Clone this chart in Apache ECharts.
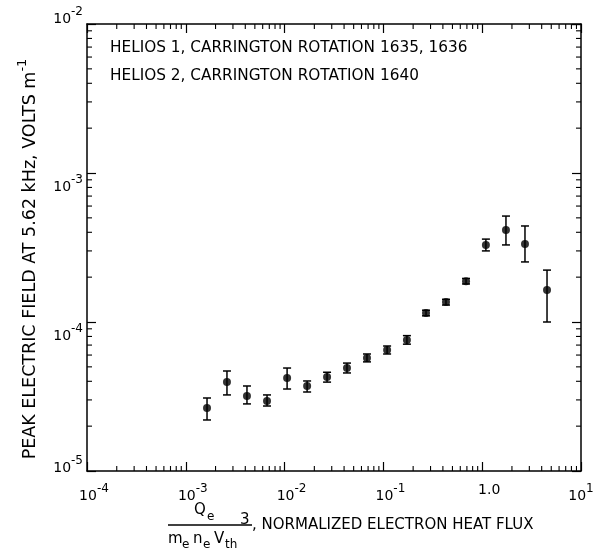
<!DOCTYPE html>
<html><head><meta charset="utf-8">
<script src="https://cdn.jsdelivr.net/npm/echarts@6/dist/echarts.min.js"></script>
<style>html,body{margin:0;padding:0;background:#fff}#c{width:598px;height:552px}</style>
</head><body><div id="c"></div>
<script>
// Normalized electron heat flux (x) and peak electric field (y, V/m)
const heatFlux = [1.64e-3, 2.61e-3, 4.16e-3, 6.64e-3, 1.06e-2, 1.69e-2, 2.69e-2, 4.28e-2, 6.82e-2, 1.09e-1, 1.73e-1, 2.70e-1, 4.30e-1, 6.86e-1, 1.09, 1.74, 2.71, 4.53];
const fieldPeak = [2.65e-5, 3.96e-5, 3.19e-5, 2.95e-5, 4.21e-5, 3.72e-5, 4.27e-5, 4.91e-5, 5.73e-5, 6.49e-5, 7.57e-5, 1.15e-4, 1.36e-4, 1.88e-4, 3.29e-4, 4.14e-4, 3.34e-4, 1.64e-4];
const errHigh = [3.09e-5, 4.69e-5, 3.72e-5, 3.24e-5, 4.91e-5, 4.02e-5, 4.60e-5, 5.30e-5, 6.10e-5, 6.90e-5, 8.10e-5, 1.20e-4, 1.42e-4, 1.96e-4, 3.60e-4, 5.14e-4, 4.41e-4, 2.23e-4];
const errLow  = [2.20e-5, 3.24e-5, 2.82e-5, 2.73e-5, 3.55e-5, 3.39e-5, 3.95e-5, 4.55e-5, 5.40e-5, 6.10e-5, 7.10e-5, 1.10e-4, 1.30e-4, 1.80e-4, 3.00e-4, 3.29e-4, 2.53e-4, 1.00e-4];
const xMinorTicks = [2e-4,3e-4,4e-4,5e-4,6e-4,7e-4,8e-4,9e-4, 2e-3,3e-3,4e-3,5e-3,6e-3,7e-3,8e-3,9e-3, 2e-2,3e-2,4e-2,5e-2,6e-2,7e-2,8e-2,9e-2, 0.2,0.3,0.4,0.5,0.6,0.7,0.8,0.9, 2,3,4,5,6,7,8,9];
const yMinorTicks = [2e-5,3e-5,4e-5,5e-5,6e-5,7e-5,8e-5,9e-5, 2e-4,3e-4,4e-4,5e-4,6e-4,7e-4,8e-4,9e-4, 2e-3,3e-3,4e-3,5e-3,6e-3,7e-3,8e-3,9e-3];
const xLabels = {'-4':'{b|10}{s|-4}','-3':'{b|10}{s|-3}','-2':'{b|10}{s|-2}','-1':'{b|10}{s|-1}','0':'{b|1.0}','1':'{e|10}{s|1}'};
const yLabels = {'-5':'{b5|10}{s5|-5}','-4':'{b|10}{s|-4}','-3':'{b|10}{s|-3}','-2':'{b2|10}{s2|-2}'};
const legendLines = ['HELIOS 1, CARRINGTON ROTATION 1635, 1636', 'HELIOS 2, CARRINGTON ROTATION 1640'];

const FONT = 'DejaVu Sans';
const chart = echarts.init(document.getElementById('c'));
const bS = (q, l) => ({fontFamily: FONT, fontSize: 14, color: '#000', padding: [0, 0, q, l || 0]});
const sS = q => ({fontFamily: FONT, fontSize: 12, color: '#000', padding: [0, 0, 14 + q, 0]});
const xRich = {b: bS(0, 14), e: bS(0, 0), s: sS(0)};
const yRich = {b: bS(0), s: sS(0), b2: bS(38), s2: sS(38), b5: bS(34), s5: sS(34)};
const exp = v => String(Math.round(Math.log10(v)));
const XMIN = 1e-4, XMAX = 10, YMIN = 1e-5, YMAX = 1e-2;
const axisCommon = {
  type: 'log', logBase: 10,
  axisLine: {show: true, lineStyle: {color: '#000', width: 1.5}},
  splitLine: {show: false},
  minorTick: {show: false}
};
const T = (txt, left, top, size) => ({type: 'text', left: left, top: top, style: {text: txt, font: size + 'px "DejaVu Sans"', fill: '#000'}});
chart.setOption({
  animation: false,
  grid: {left: 87, right: 17, top: 24, bottom: 81, show: false, containLabel: false, outerBoundsMode: 'none'},
  xAxis: [
    Object.assign({}, axisCommon, {position: 'bottom', min: XMIN, max: XMAX,
      axisTick: {inside: true, length: 9, lineStyle: {color: '#000', width: 1.2}},
      axisLabel: {margin: 12, rich: xRich, formatter: v => xLabels[exp(v)] || ''}}),
    Object.assign({}, axisCommon, {position: 'top', min: XMIN, max: XMAX,
      axisTick: {inside: true, length: 9, lineStyle: {color: '#000', width: 1.2}},
      axisLabel: {show: false}})
  ],
  yAxis: [
    Object.assign({}, axisCommon, {position: 'left', min: YMIN, max: YMAX,
      axisTick: {inside: true, length: 9, lineStyle: {color: '#000', width: 1.2}},
      axisLabel: {margin: 4, padding: [28, 0, 0, 0], rich: yRich, formatter: v => yLabels[exp(v)] || ''}}),
    Object.assign({}, axisCommon, {position: 'right', min: YMIN, max: YMAX,
      axisTick: {inside: true, length: 9, lineStyle: {color: '#000', width: 1.2}},
      axisLabel: {show: false}})
  ],
  graphic: [
    T(legendLines[0], 110, 41, 15.3),
    T(legendLines[1], 110, 69, 15.3),
    {type: 'text', x: 30, y: 259, rotation: Math.PI / 2,
      style: {text: '{t|PEAK ELECTRIC FIELD AT 5.62 kHz, VOLTS m}{s|-1}', align: 'center', verticalAlign: 'middle',
        rich: {t: {fontFamily: FONT, fontSize: 17.5, fill: '#000'}, s: {fontFamily: FONT, fontSize: 13, fill: '#000', padding: [0, 0, 14, 0]}}}},
    T('Q', 194, 503, 15),
    T('e', 207, 511, 12),
    {type: 'line', shape: {x1: 168, y1: 525, x2: 252, y2: 525}, style: {stroke: '#000', lineWidth: 1.3}},
    T('m', 168, 532, 15),
    T('e', 182, 539, 12),
    T('n', 193, 532, 15),
    T('e', 203, 539, 12),
    T('V', 214, 532, 15),
    T('th', 225, 539, 12),
    T('3', 240, 513, 15),
    T(', NORMALIZED ELECTRON HEAT FLUX', 252, 518, 15)
  ],
  series: [
    {
      type: 'custom', xAxisIndex: 0, yAxisIndex: 0, clip: false, silent: true,
      data: xMinorTicks.map(v => [v, YMIN]),
      renderItem: (params, api) => {
        const p = api.coord([api.value(0), YMIN]);
        const cs = params.coordSys;
        const st = {stroke: '#000', lineWidth: 1.1};
        return {type: 'group', children: [
          {type: 'line', shape: {x1: p[0], y1: cs.y + cs.height, x2: p[0], y2: cs.y + cs.height - 5}, style: st},
          {type: 'line', shape: {x1: p[0], y1: cs.y, x2: p[0], y2: cs.y + 5}, style: st}
        ]};
      }
    },
    {
      type: 'custom', xAxisIndex: 0, yAxisIndex: 0, clip: false, silent: true,
      data: yMinorTicks.map(v => [XMIN, v]),
      renderItem: (params, api) => {
        const p = api.coord([XMIN, api.value(1)]);
        const cs = params.coordSys;
        const st = {stroke: '#000', lineWidth: 1.1};
        return {type: 'group', children: [
          {type: 'line', shape: {x1: cs.x, y1: p[1], x2: cs.x + 5, y2: p[1]}, style: st},
          {type: 'line', shape: {x1: cs.x + cs.width, y1: p[1], x2: cs.x + cs.width - 5, y2: p[1]}, style: st}
        ]};
      }
    },
    {
      type: 'custom', xAxisIndex: 0, yAxisIndex: 0, silent: true,
      data: heatFlux.map((x, i) => [x, errLow[i], errHigh[i]]),
      renderItem: (params, api) => {
        const lo = api.coord([api.value(0), api.value(1)]);
        const hi = api.coord([api.value(0), api.value(2)]);
        const w = 4;
        const st = {stroke: '#000', lineWidth: 1.5};
        return {type: 'group', children: [
          {type: 'line', shape: {x1: lo[0], y1: lo[1], x2: hi[0], y2: hi[1]}, style: st},
          {type: 'line', shape: {x1: lo[0] - w, y1: lo[1], x2: lo[0] + w, y2: lo[1]}, style: st},
          {type: 'line', shape: {x1: hi[0] - w, y1: hi[1], x2: hi[0] + w, y2: hi[1]}, style: st}
        ]};
      }
    },
    {
      type: 'scatter', xAxisIndex: 0, yAxisIndex: 0, silent: true,
      symbol: 'circle', symbolSize: 8,
      itemStyle: {color: '#000'},
      data: heatFlux.map((x, i) => [x, fieldPeak[i]])
    }
  ]
});
</script></body></html>
